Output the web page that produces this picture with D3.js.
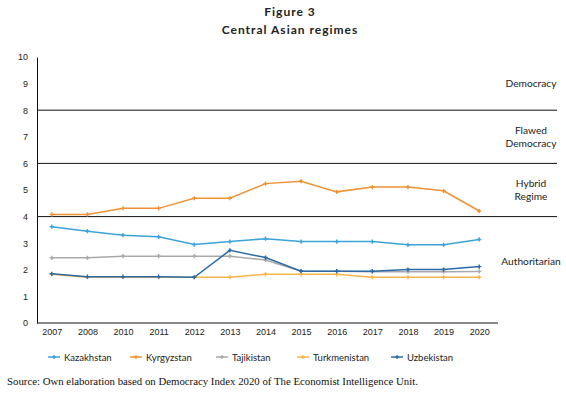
<!DOCTYPE html>
<html>
<head>
<meta charset="utf-8">
<script src="https://cdn.jsdelivr.net/npm/d3@7"></script>
<style>
  body { margin: 0; background: #fff; }
  svg { font-family: Lato, "Open Sans", sans-serif; }
</style>
</head>
<body>
<svg id="chart" width="566" height="398"></svg>
<script>
// Data
const years = ['2007', '2008', '2010', '2011', '2012', '2013', '2014', '2015', '2016', '2017', '2018', '2019', '2020'];
const kazakhstan   = [3.62, 3.45, 3.30, 3.24, 2.95, 3.06, 3.17, 3.06, 3.06, 3.06, 2.94, 2.94, 3.14];
const kyrgyzstan   = [4.08, 4.08, 4.31, 4.31, 4.69, 4.69, 5.24, 5.33, 4.93, 5.11, 5.11, 4.97, 4.21];
const tajikistan   = [2.45, 2.45, 2.51, 2.51, 2.51, 2.51, 2.37, 1.95, 1.95, 1.93, 1.93, 1.93, 1.94];
const turkmenistan = [1.83, 1.72, 1.72, 1.72, 1.72, 1.72, 1.83, 1.83, 1.83, 1.72, 1.72, 1.72, 1.72];
const uzbekistan   = [1.85, 1.74, 1.74, 1.74, 1.72, 2.73, 2.46, 1.95, 1.95, 1.95, 2.01, 2.01, 2.12];
const yTicks = [0, 1, 2, 3, 4, 5, 6, 7, 8, 9, 10];
const bands = [4, 6, 8];
const regimes = [
    {label: ['Democracy'], mid: 9},
    {label: ['Flawed', 'Democracy'], mid: 7},
    {label: ['Hybrid', 'Regime'], mid: 5},
    {label: ['Authoritarian'], mid: 2.3}
];

const series = [
    {name: 'Kazakhstan', values: kazakhstan, color: '#3ba3d8'},
    {name: 'Kyrgyzstan', values: kyrgyzstan, color: '#ee9233'},
    {name: 'Tajikistan', values: tajikistan, color: '#a9a9a9'},
    {name: 'Turkmenistan', values: turkmenistan, color: '#f7b548'},
    {name: 'Uzbekistan', values: uzbekistan, color: '#2b6aa8'}
];

const svg = d3.select('#chart');

// Titles
svg.append('text')
    .attr('x', 290).attr('y', 16)
    .attr('text-anchor', 'middle')
    .attr('font-size', 12).attr('font-weight', 'bold')
    .attr('letter-spacing', 1)
    .attr('fill', '#222')
    .text('Figure 3');
svg.append('text')
    .attr('x', 290).attr('y', 34)
    .attr('text-anchor', 'middle')
    .attr('font-size', 12).attr('font-weight', 'bold')
    .attr('letter-spacing', 1)
    .attr('fill', '#222')
    .text('Central Asian regimes');

const x = d3.scalePoint()
    .domain(years)
    .range([34, 497])
    .padding(0.5);

const y = d3.scaleLinear()
    .domain([0, 10])
    .range([323, 57]);

const g = svg.append('g');

// Band separators at 4, 6, 8
g.selectAll('.band')
    .data(bands)
    .enter().append('line')
    .attr('class', 'band')
    .attr('x1', 37).attr('x2', 557)
    .attr('y1', d => y(d)).attr('y2', d => y(d))
    .attr('stroke', '#111')
    .attr('stroke-width', 1);

// Y axis
const yAxis = g.append('g')
    .attr('transform', 'translate(37,0)')
    .call(d3.axisLeft(y).tickValues(yTicks).tickSize(0).tickPadding(9));
yAxis.select('.domain').attr('stroke', '#111');
yAxis.selectAll('text').attr('font-size', 9).attr('fill', '#222');

// X axis
const xAxis = g.append('g')
    .attr('transform', 'translate(0,323)')
    .call(d3.axisBottom(x).tickSize(0).tickPadding(6));
xAxis.select('.domain').attr('d', 'M37,0H498').attr('stroke', '#111');
xAxis.selectAll('text').attr('font-size', 9).attr('fill', '#222');

// Lines
const line = d3.line()
    .x((d, i) => x(years[i]))
    .y(d => y(d));

// draw from back to front so the darker blue sits on top
const order = [2, 3, 0, 1, 4];
order.forEach(k => {
    const s = series[k];
    g.append('path')
        .datum(s.values)
        .attr('fill', 'none')
        .attr('stroke', s.color)
        .attr('stroke-width', 1.5)
        .attr('d', line);
    g.selectAll(null)
        .data(s.values)
        .enter().append('path')
        .attr('d', d3.symbol(d3.symbolCross, 10))
        .attr('transform', (d, i) => `translate(${x(years[i])},${y(d)})`)
        .attr('fill', s.color);
});

// Regime labels on the right
regimes.forEach(r => {
    const t = g.append('text')
        .attr('text-anchor', 'middle')
        .attr('font-size', 10.2)
        .attr('fill', '#222');
    const n = r.label.length;
    r.label.forEach((lab, i) => {
        t.append('tspan')
            .attr('x', 531)
            .attr('y', y(r.mid) + 3.5 + (i - (n - 1) / 2) * 13)
            .text(lab);
    });
});

// Legend
const legendX = [48, 130, 216, 297, 391];
const legend = svg.append('g').attr('transform', 'translate(0,357)');
series.forEach((s, i) => {
    const lg = legend.append('g').attr('transform', `translate(${legendX[i]},0)`);
    lg.append('line')
        .attr('x1', 0).attr('x2', 12)
        .attr('stroke', s.color).attr('stroke-width', 1.5);
    lg.append('path')
        .attr('d', d3.symbol(d3.symbolCross, 8))
        .attr('transform', 'translate(6,0)')
        .attr('fill', s.color);
    lg.append('text')
        .attr('x', 16).attr('y', 3.5)
        .attr('font-size', 9.5)
        .attr('fill', '#222')
        .text(s.name);
});

// Source note
svg.append('text')
    .attr('x', 7).attr('y', 385)
    .attr('font-family', '"Liberation Serif", "DejaVu Serif", serif')
    .attr('font-size', 10.8)
    .attr('fill', '#111')
    .text('Source: Own elaboration based on Democracy Index 2020 of The Economist Intelligence Unit.');
</script>
</body>
</html>
